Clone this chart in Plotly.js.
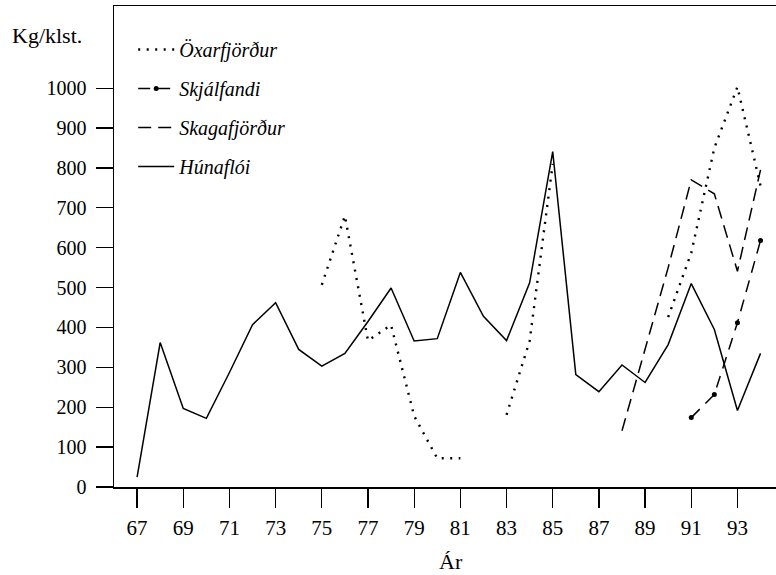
<!DOCTYPE html>
<html>
<head>
<meta charset="utf-8">
<script src="https://cdn.plot.ly/plotly-3.0.1.min.js"></script>
<style>
html,body{margin:0;padding:0;background:#fff;overflow:hidden;}
#chart{width:776px;height:575px;}
</style>
</head>
<body>
<div id="chart"></div>
<script>
// Data (Kg/klst. per year)
const huYears = [67,68,69,70,71,72,73,74,75,76,77,78,79,80,81,82,83,84,85,86,87,88,89,90,91,92,93,94];
const huVals  = [25,362,197,172,287,407,462,345,303,335,415,499,366,372,538,428,367,512,841,282,239,306,262,357,510,395,192,335];

const oxYears = [75,76,77,78,79,80,81,82,83,84,85,86,87,88,89,90,91,92,93,94];
const oxVals  = [507,680,367,406,178,72,72,null,181,366,810,null,null,null,null,426,587,850,1003,755];

const skjYears = [91,92,93,94];
const skjVals  = [174,232,412,618];

const skaYears = [88,89,90,91,92,93,94];
const skaVals  = [141,345,550,770,735,541,795];

const seriesNames = ["Öxarfjörður","Skjálfandi","Skagafjörður","Húnaflói"];
const xTicks = [67,69,71,73,75,77,79,81,83,85,87,89,91,93];
const yTicks = [0,100,200,300,400,500,600,700,800,900,1000];
const yLabel = "Kg/klst.";
const xLabel = "Ár";

const serif = '"Liberation Serif", "Times New Roman", Times, serif';

const traces = [
  {x: oxYears, y: oxVals, name: seriesNames[0], legendgroup:"a", mode:"lines",
   connectgaps:false, line:{color:"#000", width:2.4, dash:"2px,6.5px"}},
  {x: skjYears, y: skjVals, name: seriesNames[1], legendgroup:"b", mode:"lines+markers",
   line:{color:"#000", width:1.5, dash:"12px,8px"}, marker:{color:"#000", size:5}},
  {x: skaYears, y: skaVals, name: seriesNames[2], legendgroup:"c", mode:"lines",
   line:{color:"#000", width:1.5, dash:"13px,7px"}},
  {x: huYears, y: huVals, name: seriesNames[3], legendgroup:"d", mode:"lines",
   line:{color:"#000", width:1.5}}
];

const layout = {
  width: 776, height: 575,
  margin: {l:114, r:0, t:6, b:87.5},
  paper_bgcolor:"#fff", plot_bgcolor:"#fff",
  font: {family: serif, color:"#000", size:20},
  showlegend: true,
  legend: {
    x: 0.029, y: 0.95, xanchor:"left", yanchor:"top",
    bgcolor:"rgba(0,0,0,0)", traceorder:"grouped", tracegroupgap: 10,
    itemwidth: 36,
    font: {family: serif, size: 20, style:"italic", color:"#000"}
  },
  xaxis: {
    range: [66, 94.67], tickvals: xTicks, ticktext: xTicks.map(String),
    showgrid:false, zeroline:false, showline:true, linecolor:"#000", linewidth:1.5,
    mirror:true, ticks:"outside", ticklen:19, tickwidth:1.3, tickcolor:"#000",
    tickfont:{family: serif, size:21, color:"#000"}, ticklabelstandoff: 2
  },
  yaxis: {
    range: [0, 1206], tickvals: yTicks, ticktext: yTicks.map(String),
    showgrid:false, zeroline:false, showline:true, linecolor:"#000", linewidth:1.5,
    mirror:false, ticks:"outside", ticklen:17, tickwidth:1.3, tickcolor:"#000",
    tickfont:{family: serif, size:20, color:"#000"}, ticklabelstandoff: 5
  },
  annotations: [
    {text: yLabel, xref:"paper", yref:"paper", x:(10-114)/662, y:(487.5-36)/481.5,
     xanchor:"left", yanchor:"middle", showarrow:false, font:{family: serif, size:22, color:"#000"}},
    {text: xLabel, xref:"paper", yref:"paper", x:(451-114)/662, y:(487.5-562)/481.5,
     xanchor:"center", yanchor:"middle", showarrow:false, font:{family: serif, size:22, color:"#000"}}
  ]
};

Plotly.newPlot("chart", traces, layout, {displayModeBar:false, staticPlot:true});
</script>
</body>
</html>
